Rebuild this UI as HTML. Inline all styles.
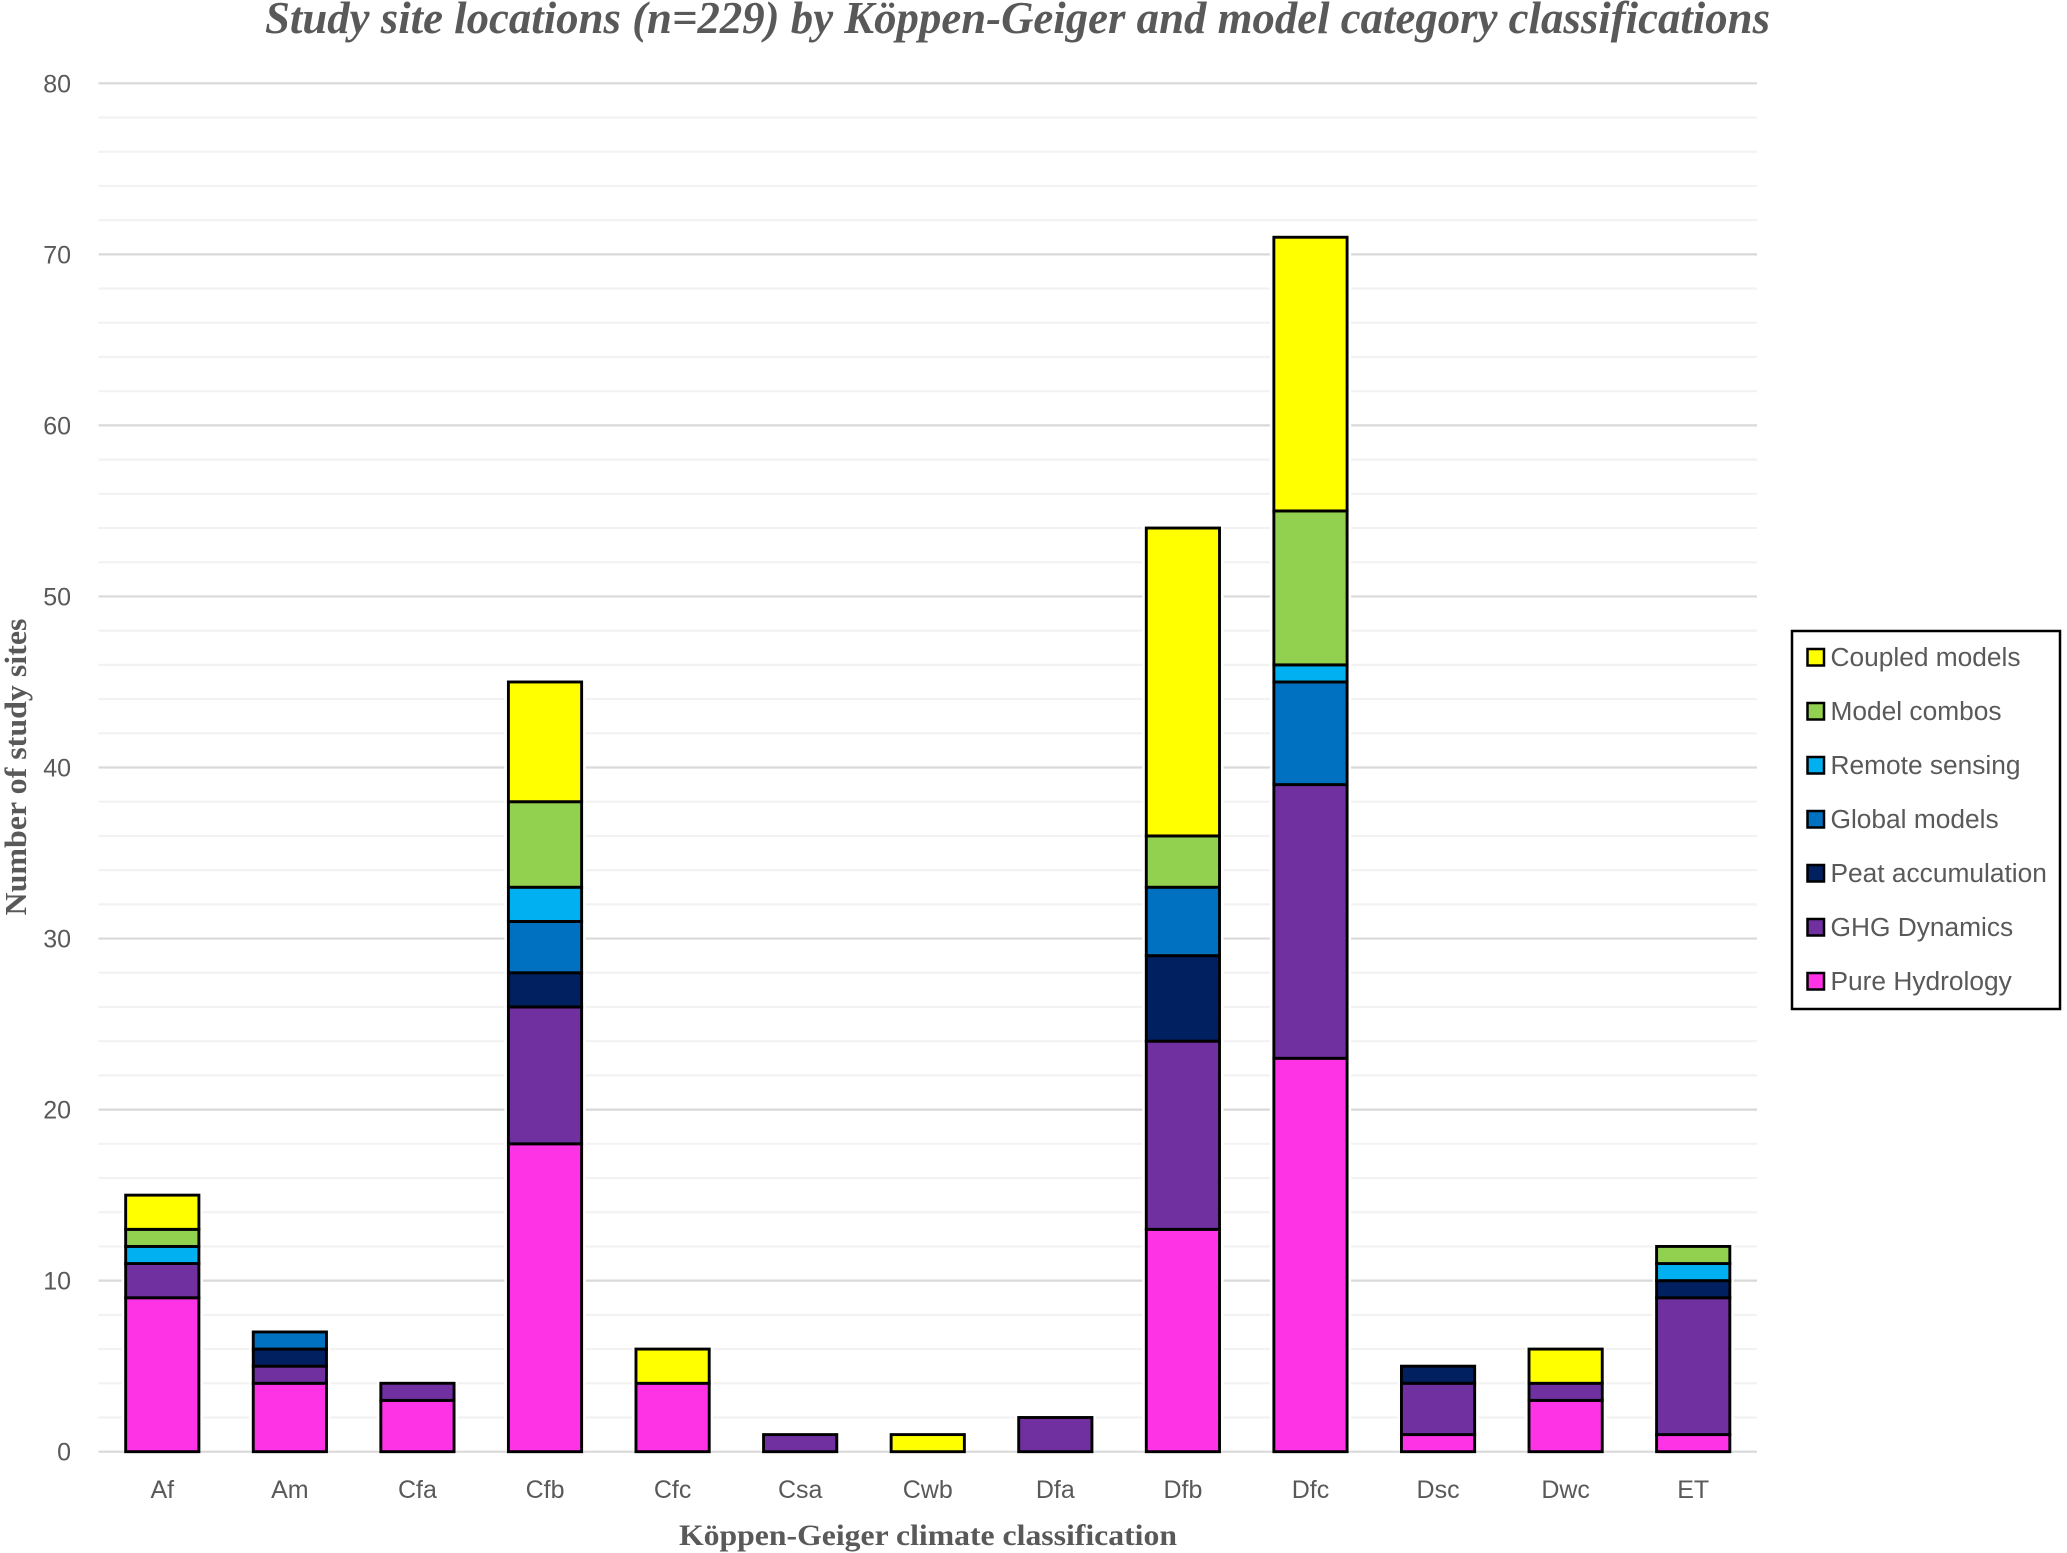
<!DOCTYPE html>
<html lang="en">
<head>
<meta charset="utf-8">
<title>Study site locations by Köppen-Geiger and model category</title>
<style>
html,body{margin:0;padding:0;background:#fff;}
body{width:2067px;height:1553px;overflow:hidden;}
svg{display:block;}
.tick{font-family:"Liberation Sans",sans-serif;font-size:25px;fill:#595959;}
.legend-text{font-size:26.3px;}
.serif{font-family:"Liberation Serif",serif;font-weight:bold;fill:#595959;}
</style>
</head>
<body>
<svg id="chart" xmlns="http://www.w3.org/2000/svg" width="2067" height="1553" viewBox="0 0 2067 1553">
  <text class="serif" x="265" y="33" font-size="46" font-style="italic" textLength="1505" lengthAdjust="spacingAndGlyphs">Study site locations (n=229) by Köppen-Geiger and model category classifications</text>
  <text class="serif" transform="translate(26,767) rotate(-90)" text-anchor="middle" font-size="31" textLength="297" lengthAdjust="spacingAndGlyphs">Number of study sites</text>
  <text class="serif" x="928" y="1545" text-anchor="middle" font-size="30" textLength="498" lengthAdjust="spacingAndGlyphs">Köppen-Geiger climate classification</text>
  <g id="grid"></g>
  <g id="yticks"></g>
  <g id="bars"></g>
  <g id="xticks"></g>
  <g id="legend">
    <rect x="1792" y="631" width="268" height="378" fill="#fff" stroke="#000" stroke-width="2.5"></rect>
  </g>
</svg>
<script>
const categories = ["Af","Am","Cfa","Cfb","Cfc","Csa","Cwb","Dfa","Dfb","Dfc","Dsc","Dwc","ET"];
const pureHydrology = [9,4,3,18,4,0,0,0,13,23,1,3,1];
const ghgDynamics = [2,1,1,8,0,1,0,2,11,16,3,1,8];
const peatAccumulation = [0,1,0,2,0,0,0,0,5,0,1,0,1];
const globalModels = [0,1,0,3,0,0,0,0,4,6,0,0,0];
const remoteSensing = [1,0,0,2,0,0,0,0,0,1,0,0,1];
const modelCombos = [1,0,0,5,0,0,0,0,3,9,0,0,1];
const coupledModels = [2,0,0,7,2,0,1,0,18,16,0,2,0];
const seriesNames = ["Pure Hydrology","GHG Dynamics","Peat accumulation","Global models","Remote sensing","Model combos","Coupled models"];
const yTickLabels = [0,10,20,30,40,50,60,70,80];
const yMinorStep = 2;

const seriesValues = [pureHydrology,ghgDynamics,peatAccumulation,globalModels,remoteSensing,modelCombos,coupledModels];
const seriesColors = ["#ff33e6","#7030a0","#002060","#0070c0","#00b0f0","#92d050","#ffff00"];
const NS = "http://www.w3.org/2000/svg";
const plotLeft = 98.5, plotRight = 1757, plotTop = 83.3, plotBottom = 1451.7;
const yMax = yTickLabels[yTickLabels.length - 1];
const band = (plotRight - plotLeft) / categories.length;
const barWidth = band * 0.574;

function yScale(v) { return plotBottom - (v / yMax) * (plotBottom - plotTop); }
function xScale(i) { return plotLeft + band * (i + 0.5); }
function slug(s) { return s.toLowerCase().replace(/[^a-z0-9]+/g, "-"); }
function make(tag, attrs, parent) {
  const el = document.createElementNS(NS, tag);
  for (const k in attrs) el.setAttribute(k, attrs[k]);
  parent.appendChild(el);
  return el;
}

const grid = document.getElementById("grid");
const yticks = document.getElementById("yticks");
const bars = document.getElementById("bars");
const xticks = document.getElementById("xticks");
const legend = document.getElementById("legend");

for (let v = 0; v <= yMax; v += yMinorStep) {
  const major = yTickLabels.includes(v);
  const line = make("line", {x1: plotLeft, x2: plotRight, y1: yScale(v), y2: yScale(v), stroke: major ? "#d9d9d9" : "#f2f2f2", "stroke-width": 2.2}, grid);
  
  
}

yTickLabels.forEach(function (v) {
  const t = make("text", {class: "tick", x: 71, y: yScale(v) + 9, "text-anchor": "end"}, yticks);
  t.textContent = v;
  
  
});

categories.forEach(function (cat, i) {
  const stack = make("g", {}, bars);
  
  
  const total = seriesValues.reduce(function (a, s) { return a + s[i]; }, 0);
  const halo = make("rect", {x: xScale(i) - barWidth / 2 - 4, y: yScale(total) - 4, width: barWidth + 8, height: yScale(0) - yScale(total) + 3, fill: "#fff"}, stack);
  
  
  let base = 0;
  seriesValues.forEach(function (vals, s) {
    const v = vals[i];
    if (v <= 0) return;
    const r = make("rect", {x: xScale(i) - barWidth / 2, y: yScale(base + v), width: barWidth, height: yScale(base) - yScale(base + v), fill: seriesColors[s], stroke: "#000", "stroke-width": 2.9}, stack);
    
    
    base += v;
  });
  const t = make("text", {class: "tick", x: xScale(i), y: 1498, "text-anchor": "middle"}, xticks);
  t.textContent = cat;
  
  
});

const legendTop = 657, legendStep = 54;
seriesNames.slice().reverse().forEach(function (name, idx) {
  const s = seriesNames.indexOf(name);
  const cy = legendTop + idx * legendStep;
  const entry = make("g", {}, legend);
  
  
  const sw = make("rect", {x: 1807.5, y: cy - 8, width: 16.5, height: 16.5, fill: seriesColors[s], stroke: "#000", "stroke-width": 2.5}, entry);
  
  
  const t = make("text", {class: "tick legend-text", x: 1830.5, y: cy + 9}, entry);
  t.textContent = name;
  
  
});
</script>
</body>
</html>
